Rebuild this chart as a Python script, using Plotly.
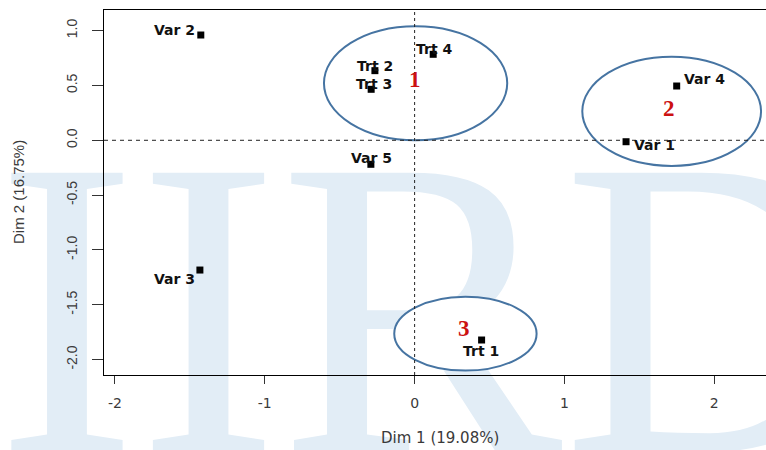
import plotly.graph_objects as go

# ---- data: factor map coordinates (Dim 1, Dim 2) ----
names = ["Var 1", "Var 2", "Var 3", "Var 4", "Var 5", "Trt 1", "Trt 2", "Trt 3", "Trt 4"]
dim1 = [1.411, -1.427, -1.433, 1.749, -0.292, 0.447, -0.265, -0.290, 0.124]
dim2 = [-0.013, 0.960, -1.183, 0.495, -0.219, -1.821, 0.635, 0.465, 0.784]

# cluster numbers and their enclosing ellipses
cluster_ids = ["1", "2", "3"]
cluster_x = [0.002, 1.700, 0.332]
cluster_y = [0.550, 0.290, -1.720]
ellipse_x0 = [-0.605, 1.119, -0.136]
ellipse_x1 = [0.618, 2.312, 0.814]
ellipse_y0 = [0.000, -0.234, -2.100]
ellipse_y1 = [1.040, 0.762, -1.426]

x_ticks = [-2, -1, 0, 1, 2]
x_tick_text = ["-2", "-1", "0", "1", "2"]
y_ticks = [-2.0, -1.5, -1.0, -0.5, 0.0, 0.5, 1.0]
y_tick_text = ["-2.0", "-1.5", "-1.0", "-0.5", "0.0", "0.5", "1.0"]

x_title = "Dim 1 (19.08%)"
y_title = "Dim 2 (16.75%)"
watermark = "IIRD"

X_RANGE = [-2.073, 2.345]
Y_RANGE = [-2.140, 1.188]

# ---- styling ----
W, H = 766, 450
ML, MR, MT, MB = 104, 0, 10, 75
PW, PH = W - ML - MR, H - MT - MB


def px_x(px):
    return (px - ML) / PW


def px_y(py):
    return (H - MB - py) / PH


# label placement per point: (xanchor, xshift, yshift) in pixels
label_place = {
    "Var 1": ("left", 6, -3),
    "Var 2": ("right", -4, 5),
    "Var 3": ("right", -3, -9),
    "Var 4": ("left", 5, 7),
    "Var 5": ("center", 1, 6),
    "Trt 1": ("center", -1, -11),
    "Trt 2": ("center", 0, 5),
    "Trt 3": ("center", 3, 5),
    "Trt 4": ("center", 1, 5),
}

TEXT_GREY = "#3a3a3a"
ELLIPSE_BLUE = "#4674a2"
WATERMARK_BLUE = "#e2edf6"

fig = go.Figure()

# reference lines through the origin
fig.add_trace(go.Scatter(
    x=[X_RANGE[0], X_RANGE[1]], y=[0, 0], mode="lines",
    line=dict(color="#222222", width=1, dash="4px,4px"), hoverinfo="skip"))
fig.add_trace(go.Scatter(
    x=[0, 0], y=[Y_RANGE[0], Y_RANGE[1]], mode="lines",
    line=dict(color="#222222", width=1, dash="3px,3px"), hoverinfo="skip"))

# points
fig.add_trace(go.Scatter(
    x=dim1, y=dim2, mode="markers",
    marker=dict(symbol="square", size=7, color="black", line=dict(width=0)),
    text=names, hoverinfo="text"))

# cluster ellipses (white filled, below the points)
for x0, x1, y0, y1 in zip(ellipse_x0, ellipse_x1, ellipse_y0, ellipse_y1):
    fig.add_shape(type="circle", xref="x", yref="y", x0=x0, x1=x1, y0=y0, y1=y1,
                  layer="below", fillcolor="white",
                  line=dict(color=ELLIPSE_BLUE, width=2))

# large background lettering
fig.add_shape(type="rect", xref="paper", yref="paper",
              x0=px_x(-7), x1=px_x(900), y0=px_y(600), y1=px_y(26),
              layer="below", fillcolor="rgba(0,0,0,0)", line=dict(width=0),
              label=dict(text=watermark, textposition="top left",
                         xanchor="left", yanchor="top", padding=0,
                         font=dict(family="Liberation Serif", size=425,
                                   color=WATERMARK_BLUE)))

# point labels
for n, x, y in zip(names, dim1, dim2):
    xa, dx, dy = label_place[n]
    fig.add_annotation(x=x, y=y, xref="x", yref="y", text=n, showarrow=False,
                       xanchor=xa, yanchor="middle", xshift=dx, yshift=dy,
                       font=dict(family="DejaVu Sans", size=14, color="#111111",
                                 weight="bold"))

# cluster numbers
for cid, x, y in zip(cluster_ids, cluster_x, cluster_y):
    fig.add_annotation(x=x, y=y, xref="x", yref="y", text=cid, showarrow=False,
                       xanchor="center", yanchor="middle",
                       font=dict(family="Liberation Serif", size=23,
                                 color="#cc1111", weight="bold"))

# axis titles
fig.add_annotation(x=px_x(440), y=px_y(438), xref="paper", yref="paper",
                   text=x_title, showarrow=False, xanchor="center", yanchor="middle",
                   font=dict(family="DejaVu Sans", size=15, color=TEXT_GREY))
fig.add_annotation(x=px_x(19), y=px_y(192), xref="paper", yref="paper",
                   text=y_title, showarrow=False, xanchor="center", yanchor="middle",
                   textangle=-90,
                   font=dict(family="Liberation Sans", size=15, color=TEXT_GREY))

fig.update_xaxes(range=X_RANGE, tickvals=x_ticks, ticktext=x_tick_text,
                 ticks="outside", ticklen=8, tickwidth=1, tickcolor="#333333",
                 showline=True, linecolor="black", linewidth=1, mirror=True,
                 showgrid=False, zeroline=False, ticklabelstandoff=7,
                 tickfont=dict(family="DejaVu Sans", size=14, color=TEXT_GREY))
fig.update_yaxes(range=Y_RANGE, tickvals=y_ticks, ticktext=y_tick_text,
                 ticks="outside", ticklen=11, tickwidth=1, tickcolor="#333333",
                 showline=True, linecolor="black", linewidth=1, mirror=False,
                 showgrid=False, zeroline=False, tickangle=-90,
                 ticklabelstandoff=9,
                 tickfont=dict(family="Liberation Sans", size=14, color=TEXT_GREY))

fig.update_layout(width=W, height=H, margin=dict(l=ML, r=MR, t=MT, b=MB, pad=0),
                  paper_bgcolor="white", plot_bgcolor="white", showlegend=False)

fig.write_html("out.html")
